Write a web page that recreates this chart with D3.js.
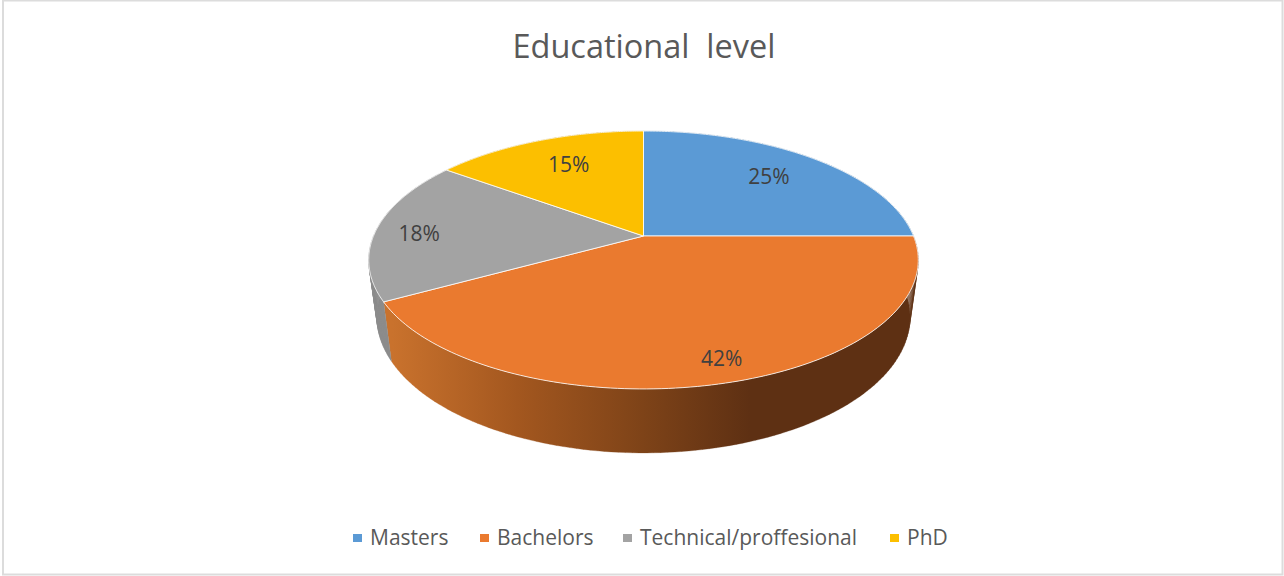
<!DOCTYPE html>
<html>
<head>
<meta charset="utf-8">
<script src="https://cdn.jsdelivr.net/npm/d3@7"></script>
<style>
  html, body { margin: 0; padding: 0; background: #fff; }
  svg { display: block; }
  text { font-family: "Open Sans", "Noto Sans", sans-serif; white-space: pre; }
</style>
</head>
<body>
<svg id="chart" width="1284" height="576"></svg>
<script>
// Chart content
const chartTitle = "Educational  level";
const categories = ["Masters", "Bachelors", "Technical/proffesional", "PhD"];
const shares = [25, 42, 18, 15];
const topColors = ["#5b9ad5", "#ea7a2f", "#a3a3a3", "#fcbf00"];
const wallColors = ["#3f6d96", "#5e3013", "#8c8c8c", "#b38600"];

// Disc geometry: a tilted, perspective-projected pie
const cx = 643.5, cy = 236;
const radiusX = 270, radiusY = 124.5, perspective = 0.186;
const wallDrop = 55.8, wallShrink = 0.97;

function project(theta, r = 1, lower = false) {
  const w = 1 + perspective * r * Math.cos(theta);
  const s = lower ? wallShrink : 1;
  const drop = lower ? wallDrop : 0;
  return [
    cx + s * radiusX * r * Math.sin(theta) / w,
    cy + (drop - s * radiusY * r * Math.cos(theta)) / w
  ];
}

const svg = d3.select("#chart");
const arcs = d3.pie().sort(null).value(d => d)(shares);

// Panel frame
svg.append("rect")
  .attr("x", 3).attr("y", 0.5).attr("width", 1279.5).attr("height", 574)
  .attr("fill", "#fff").attr("stroke", "#dcdcdc").attr("stroke-width", 2);

// Side shading of the big slice runs from lit orange into deep brown
const defs = svg.append("defs");
const shade = defs.append("linearGradient")
  .attr("id", "wallShade").attr("gradientUnits", "userSpaceOnUse")
  .attr("x1", 392).attr("x2", 750).attr("y1", 0).attr("y2", 0);
[[0, "#c9722d"], [0.35, "#a3571f"], [0.7, "#7e4318"], [1, "#5e3013"]].forEach(([o, c]) =>
  shade.append("stop").attr("offset", o).attr("stop-color", c));

// Walls: each slice's rim is extruded as a strip of small quads
const line = d3.line();
function wallPath(a) {
  const steps = d3.range(0, 121).map(i => a.startAngle + (a.endAngle - a.startAngle) * i / 120);
  return d3.pairs(steps).map(([t0, t1]) =>
    line([project(t0), project(t1), project(t1, 1, true), project(t0, 1, true)]) + "Z").join("");
}
svg.append("g").selectAll("path").data(arcs).join("path")
  .attr("d", wallPath)
  .attr("fill", (d, i) => i === 1 ? "url(#wallShade)" : wallColors[i])
  .attr("stroke", (d, i) => i === 1 ? "url(#wallShade)" : wallColors[i])
  .attr("stroke-width", 0.3);

// Top faces
function topPath(a) {
  const n = 120;
  const rim = d3.range(0, n + 1).map(i => project(a.startAngle + (a.endAngle - a.startAngle) * i / n));
  return line([[cx, cy], ...rim]) + "Z";
}
svg.append("g").selectAll("path").data(arcs).join("path")
  .attr("d", topPath)
  .attr("fill", (d, i) => topColors[i])
  .attr("stroke", "#fff").attr("stroke-opacity", 0.8).attr("stroke-width", 1)
  .attr("stroke-linejoin", "round");

// Percentage labels
const labelRadius = 0.75;
const labelNudge = [[-5, 0], [20, 17], [-24, 3], [7, 2]];
svg.append("g").selectAll("text").data(arcs).join("text")
  .attr("x", (d, i) => project((d.startAngle + d.endAngle) / 2, labelRadius)[0] + labelNudge[i][0])
  .attr("y", (d, i) => project((d.startAngle + d.endAngle) / 2, labelRadius)[1] + labelNudge[i][1])
  .attr("text-anchor", "middle").attr("dominant-baseline", "central")
  .attr("font-size", 21).attr("fill", "#404040")
  .text(d => d.value + "%");

// Title
svg.append("text")
  .attr("x", 644).attr("y", 45)
  .attr("text-anchor", "middle").attr("dominant-baseline", "central")
  .attr("font-size", 32.5).attr("fill", "#595959")
  .text(chartTitle);

// Legend
const legendX = d3.scaleOrdinal().domain(categories).range([353, 480, 623, 890]);
const legend = svg.append("g").selectAll("g").data(categories).join("g")
  .attr("transform", d => `translate(${legendX(d)},534)`);
legend.append("rect").attr("width", 9).attr("height", 8)
  .attr("fill", (d, i) => topColors[i]);
legend.append("text")
  .attr("x", 17).attr("y", 2.5)
  .attr("dominant-baseline", "central")
  .attr("font-size", 21).attr("fill", "#595959")
  .text(d => d);
</script>
</body>
</html>
